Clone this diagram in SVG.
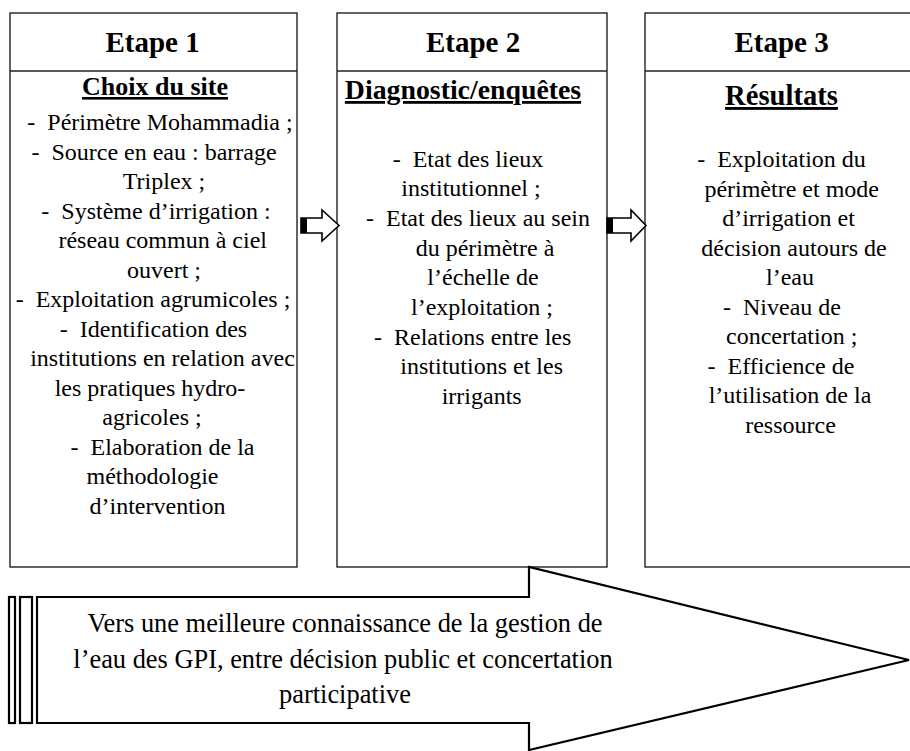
<svg xmlns="http://www.w3.org/2000/svg" width="910" height="751" viewBox="0 0 910 751">
<style>
.box{fill:#fff;stroke:#222;stroke-width:1.4}
.div{stroke:#222;stroke-width:1.4}
.t{font-family:"Liberation Serif","Times New Roman",serif;fill:#000;text-anchor:middle}
.h{font-size:29px;font-weight:bold}
.s{font-weight:bold;text-decoration:underline}
.b{font-size:24px}
.big{font-size:26.4px}
.arr{fill:#fff;stroke:#000;stroke-width:1.6;stroke-linejoin:miter}
.barr{fill:#fff;stroke:#000;stroke-width:2.2;stroke-linejoin:miter}
</style>
<rect width="910" height="751" fill="#fff"/>
<g id="etape1">
<rect class="box" x="10" y="13" width="287" height="554"/>
<line class="div" x1="10" y1="71" x2="297" y2="71"/>
<text class="t h" x="152.5" y="52">Etape 1</text>
<text class="t s" x="155" y="95" font-size="26">Choix du site</text>
<text class="t b" x="160" y="130">-&#160; Périmètre Mohammadia ;</text>
<text class="t b" x="154" y="159.5">-&#160; Source en eau : barrage</text>
<text class="t b" x="164" y="189">Triplex ;</text>
<text class="t b" x="156" y="218.5">-&#160; Système d’irrigation :</text>
<text class="t b" x="162.7" y="248">réseau commun à ciel</text>
<text class="t b" x="164" y="277.5">ouvert ;</text>
<text class="t b" x="153" y="307">-&#160; Exploitation agrumicoles ;</text>
<text class="t b" x="153.5" y="336.5">-&#160; Identification des</text>
<text class="t b" x="162.5" y="366">institutions en relation avec</text>
<text class="t b" x="150" y="395.5">les pratiques hydro-</text>
<text class="t b" x="152" y="425">agricoles ;</text>
<text class="t b" x="162.5" y="454.5">-&#160; Elaboration de la</text>
<text class="t b" x="152.5" y="484">méthodologie</text>
<text class="t b" x="157.5" y="513.5">d’intervention</text>
</g>
<g id="etape2">
<rect class="box" x="337" y="13" width="270" height="554"/>
<line class="div" x1="337" y1="71" x2="607" y2="71"/>
<text class="t h" x="473" y="52">Etape 2</text>
<text class="t s" x="463" y="99" font-size="27.8">Diagnostic/enquêtes</text>
<text class="t b" x="468" y="166.5">-&#160; Etat des lieux</text>
<text class="t b" x="471" y="196.2">institutionnel ;</text>
<text class="t b" x="478" y="225.9">-&#160; Etat des lieux au sein</text>
<text class="t b" x="485" y="255.6">du périmètre à</text>
<text class="t b" x="483" y="285.3">l’échelle de</text>
<text class="t b" x="482" y="315">l’exploitation ;</text>
<text class="t b" x="472.7" y="344.7">-&#160; Relations entre les</text>
<text class="t b" x="481.7" y="374.4">institutions et les</text>
<text class="t b" x="481.7" y="404.1">irrigants</text>
</g>
<g id="etape3">
<rect class="box" x="645" y="13" width="280" height="554"/>
<line class="div" x1="645" y1="71" x2="925" y2="71"/>
<text class="t h" x="781.5" y="52">Etape 3</text>
<text class="t s" x="781.5" y="105" font-size="28.6">Résultats</text>
<text class="t b" x="781.5" y="167">-&#160; Exploitation du</text>
<text class="t b" x="791.7" y="196.5">périmètre et mode</text>
<text class="t b" x="788.5" y="226">d’irrigation et</text>
<text class="t b" x="794" y="255.5">décision autours de</text>
<text class="t b" x="790" y="285">l’eau</text>
<text class="t b" x="782" y="314.5">-&#160; Niveau de</text>
<text class="t b" x="791.7" y="344">concertation ;</text>
<text class="t b" x="781" y="373.5">-&#160; Efficience de</text>
<text class="t b" x="790" y="403">l’utilisation de la</text>
<text class="t b" x="790.5" y="432.5">ressource</text>
</g>
<g id="connectors">
<g id="arrow12">
<polygon class="arr" points="301,218 322,218 322,210 339,225.5 322,241 322,233 301,233"/>
<rect x="301" y="218" width="6" height="15" fill="#000"/>
</g>
<g id="arrow23">
<polygon class="arr" points="607,218 631,218 631,210 646,225.5 631,241 631,233 607,233"/>
<rect x="607" y="218" width="6" height="15" fill="#000"/>
</g>
</g>
<g id="synthese">
<rect class="barr" x="9" y="597" width="6" height="126"/>
<rect class="barr" x="20" y="597" width="12" height="126"/>
<polygon class="barr" points="37,597 529,597 529,567 909,660 529,750 529,723 37,723"/>
<text class="t big" x="345" y="632">Vers une meilleure connaissance de la gestion de</text>
<text class="t big" x="343" y="668">l’eau des GPI, entre décision public et concertation</text>
<text class="t big" x="345" y="703">participative</text>
</g>
</svg>
